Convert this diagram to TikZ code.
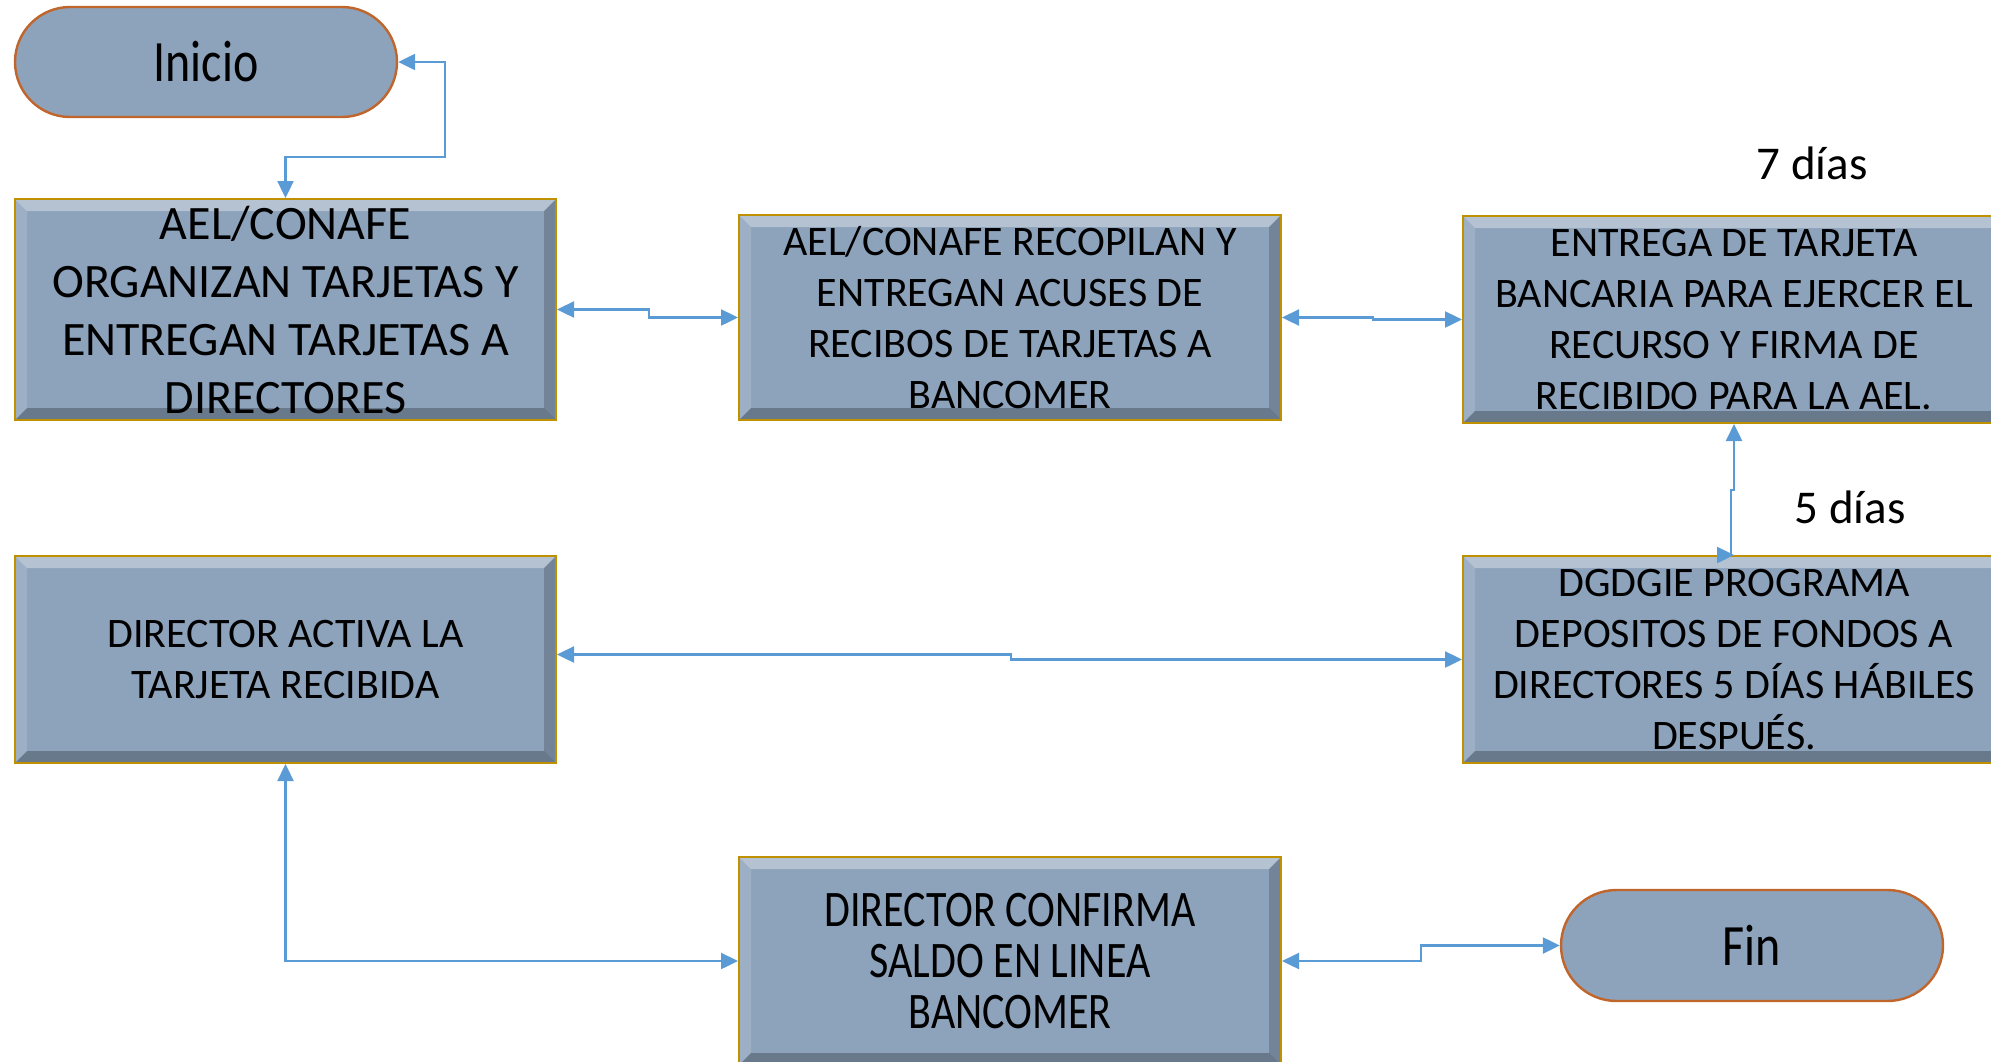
\documentclass[tikz,border=0pt]{standalone}
\usepackage{fontspec}
\usepackage{graphicx}
\setmainfont{Carlito}
\usetikzlibrary{shapes.misc,arrows.meta}

\definecolor{kFill}{RGB}{141,162,187}
\definecolor{kGold}{RGB}{191,144,0}
\definecolor{kRust}{RGB}{192,101,43}
\definecolor{kLink}{RGB}{91,155,213}

\newcommand{\tall}[1]{\scalebox{1}[1.22]{#1}}

\tikzset{
  bevel/.style={path picture={
    \fill[white,opacity=.35] (path picture bounding box.north west) -- (path picture bounding box.north east)
      -- ([xshift=-6pt,yshift=-6pt]path picture bounding box.north east) -- ([xshift=6pt,yshift=-6pt]path picture bounding box.north west) -- cycle;
    \fill[white,opacity=.15] (path picture bounding box.north west) -- ([xshift=6pt,yshift=-6pt]path picture bounding box.north west)
      -- ([xshift=6pt,yshift=6pt]path picture bounding box.south west) -- (path picture bounding box.south west) -- cycle;
    \fill[black,opacity=.25] (path picture bounding box.south west) -- (path picture bounding box.south east)
      -- ([xshift=-6pt,yshift=6pt]path picture bounding box.south east) -- ([xshift=6pt,yshift=6pt]path picture bounding box.south west) -- cycle;
    \fill[black,opacity=.18] (path picture bounding box.north east) -- ([xshift=-6pt,yshift=-6pt]path picture bounding box.north east)
      -- ([xshift=-6pt,yshift=6pt]path picture bounding box.south east) -- (path picture bounding box.south east) -- cycle;
  }},
  stepbox/.style={rectangle,draw=kGold,line width=1pt,fill=kFill,bevel,
    minimum width=271pt,minimum height=103.5pt,align=center,inner sep=0pt,
    font=\fontsize{21}{25.5}\selectfont},
  terminal/.style={rounded rectangle,draw=kRust,line width=1.2pt,fill=kFill,
    minimum width=191pt,minimum height=55pt,inner sep=0pt,
    font=\fontsize{24}{29}\selectfont},
  link/.style={draw=kLink,line width=1.2pt,
    {Triangle[length=8.5pt,width=8pt]}-{Triangle[length=8.5pt,width=8pt]}},
  days/.style={font=\fontsize{23.5}{28}\selectfont}
}

\begin{document}
\begin{tikzpicture}[x=0.5pt,y=-0.5pt]
  \useasboundingbox (0,0) rectangle (1991,1061);

  % terminals
  \node[terminal] (inicio) at (206,62) {\tall{Inicio}};
  \node[terminal,minimum height=55.5pt] (fin) at (1752,945.5) {\tall{Fin}};

  % process boxes
  \node[stepbox,minimum width=270.5pt,minimum height=110.5pt,font=\fontsize{24}{29}\selectfont]
    (organizan) at (285.5,309.5)
    {AEL/CONAFE\\ORGANIZAN TARJETAS Y\\ENTREGAN TARJETAS A\\DIRECTORES};
  \node[stepbox,minimum height=102.5pt] (recopilan) at (1010,317.5)
    {AEL/CONAFE RECOPILAN Y\\ENTREGAN ACUSES DE\\RECIBOS DE TARJETAS A\\BANCOMER};
  \node[stepbox] (entrega) at (1734,319.5)
    {ENTREGA DE TARJETA\\BANCARIA PARA EJERCER EL\\RECURSO Y FIRMA DE\\RECIBIDO PARA LA AEL.};
  \node[stepbox,minimum width=270.5pt] (activa) at (285.5,659.5)
    {DIRECTOR ACTIVA LA\\TARJETA RECIBIDA};
  \node[stepbox] (deposito) at (1734,659.5)
    {DGDGIE PROGRAMA\\DEPOSITOS DE FONDOS A\\DIRECTORES 5 DÍAS HÁBILES\\DESPUÉS.};
  \node[stepbox,minimum height=104pt] (confirma) at (1010,961)
    {\tall{DIRECTOR CONFIRMA}\\\tall{SALDO EN LINEA}\\\tall{BANCOMER}};

  % time labels
  \node[days] (siete) at (1812,163) {7 días};
  \node[days] (cinco) at (1850,507) {5 días};

  % connectors
  \draw[link] (inicio.east) -| (445,157) -| (organizan.north);
  \draw[link] (organizan.east) -- ++(92,0) |- (recopilan.west);
  \draw[link] (recopilan.east) -- ++(91,0) |- (entrega.west);
  \draw[link] (entrega.south) -- ++(0,66) -- ++(-3,0) |- (deposito.north);
  \draw[link] ([yshift=2.5pt]activa.east) -- ++(454,0) |- (deposito.west);
  \draw[link] (activa.south) |- (confirma.west);
  \draw[link] (confirma.east) -- ++(139,0) |- (fin.west);
\end{tikzpicture}
\end{document}
